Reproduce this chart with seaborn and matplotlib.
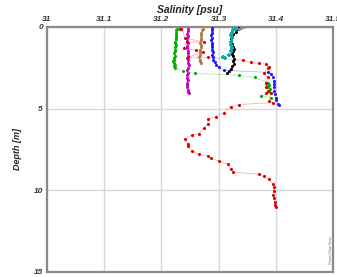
import matplotlib
matplotlib.use("Agg")
import matplotlib.pyplot as plt
import seaborn as sns
import pandas as pd
from matplotlib.ticker import MultipleLocator

# ---------------- data (salinity [psu] vs depth [m]) ----------------
green_depth = [0.1,0.2,0.35,0.5,0.6,0.75,0.9,1.0,1.1,1.25,1.4,1.5,1.6,1.75,1.9,2.0,2.1,2.2,2.3,2.4,2.5,
               2.72,2.84,2.96,3.09,3.40,3.46,3.58,3.70,3.80,3.89,4.07,4.20,4.32]
green_sal = [31.227,31.226,31.226,31.225,31.226,31.225,31.224,31.224,31.225,31.224,31.223,31.223,31.222,
             31.223,31.222,31.222,31.221,31.222,31.223,31.222,31.224,
             31.237,31.258,31.335,31.363,31.387,31.384,31.388,31.386,31.389,31.388,31.391,31.374,31.391]

magenta_depth = [0.1,0.25,0.4,0.55,0.7,0.85,1.0,1.15,1.3,1.45,1.6,1.75,1.9,2.05,2.2,2.35,2.5,2.65,2.8,
                 2.95,3.1,3.25,3.4,3.55,3.7,3.85,4.0,4.07]
magenta_sal = [31.247,31.246,31.245,31.246,31.244,31.245,31.246,31.245,31.244,31.246,31.247,31.246,31.245,
               31.246,31.247,31.248,31.246,31.245,31.246,31.244,31.245,31.246,31.245,31.244,31.245,31.246,
               31.247,31.248]

brown_depth = [0.1,0.2,0.35,0.5,0.65,0.8,0.95,1.1,1.25,1.4,1.55,1.7,1.85,2.0,2.1,2.2]
brown_sal = [31.272,31.271,31.270,31.269,31.270,31.269,31.268,31.270,31.269,31.268,31.267,31.268,31.266,
             31.267,31.268,31.270]

blue_depth = [0.05,0.2,0.35,0.5,0.65,0.8,0.95,1.1,1.25,1.4,1.55,1.7,1.85,2.0,2.15,2.3,2.47,2.65,2.78,2.9,
              3.09,3.3,3.5,3.7,3.9,4.1,4.32,4.5,4.69,4.75]
blue_sal = [31.288,31.289,31.288,31.287,31.288,31.287,31.288,31.289,31.288,31.289,31.290,31.289,31.290,
            31.291,31.293,31.296,31.300,31.309,31.386,31.391,31.395,31.396,31.396,31.396,31.397,31.398,
            31.400,31.401,31.404,31.406]

black_depth = [0.05,0.15,0.3,0.45,0.6,0.75,0.9,1.05,1.2,1.35,1.5,1.65,1.8,1.95,2.1,2.25,2.4,2.55,2.7,2.8]
black_sal = [31.336,31.333,31.330,31.326,31.324,31.322,31.321,31.323,31.326,31.327,31.325,31.324,31.326,
             31.327,31.326,31.327,31.324,31.321,31.318,31.314]

cyan_depth = [0.1,0.2,0.35,0.5,0.7,0.93,1.1,1.3,1.5,1.7,1.85,1.91]
cyan_sal = [31.330,31.326,31.324,31.322,31.323,31.321,31.322,31.323,31.322,31.318,31.307,31.312]

gray_depth = [0.0,0.05,0.1]
gray_sal = [31.344,31.339,31.336]

red_depth = [0.12,0.12,0.68,0.93,0.93,1.30,1.42,1.54,1.85,1.85,2.04,2.16,2.22,2.28,2.47,2.53,2.84,3.09,
             3.40,3.70,3.89,4.07,4.07,4.51,4.63,4.75,4.88,5.25,5.49,5.62,5.93,6.17,6.54,6.60,6.85,7.16,
             7.28,7.59,7.78,7.90,8.02,8.21,8.40,8.70,8.89,9.01,9.14,9.32,9.63,9.80,10.06,10.30,10.49,
             10.70,10.90,10.99]
red_sal = [31.232,31.235,31.242,31.274,31.244,31.239,31.260,31.272,31.247,31.282,31.342,31.356,31.370,
           31.382,31.388,31.386,31.379,31.386,31.382,31.382,31.386,31.382,31.391,31.388,31.395,31.335,
           31.321,31.309,31.295,31.282,31.281,31.274,31.265,31.254,31.242,31.246,31.246,31.254,31.265,
           31.282,31.286,31.300,31.316,31.321,31.326,31.370,31.379,31.388,31.395,31.396,31.396,31.395,
           31.396,31.398,31.399,31.400]

x_ticks = [31.0, 31.1, 31.2, 31.3, 31.4, 31.5]
x_tick_labels = ["31", "31.1", "31.2", "31.3", "31.4", "31.5"]
y_ticks = [0, 5, 10, 15]
y_tick_labels = ["0", "5", "10", "15"]

series = [
    ("green", green_sal, green_depth, "#00b000", "o"),
    ("magenta", magenta_sal, magenta_depth, "#c800c8", "o"),
    ("brown", brown_sal, brown_depth, "#b07a44", "o"),
    ("red", red_sal, red_depth, "#e00000", "o"),
    ("blue", blue_sal, blue_depth, "#1a1aff", "o"),
    ("black", black_sal, black_depth, "#000000", "o"),
    ("cyan", cyan_sal, cyan_depth, "#10a8a8", "P"),
    ("gray", gray_sal, gray_depth, "#909090", "o"),
]

# ---------------- figure ----------------
sns.set_style("white")
plt.rcParams['font.family'] = ['Liberation Sans', 'DejaVu Sans']
fig = plt.figure(figsize=(3.37, 2.77), dpi=100)
ax = fig.add_axes([47/337, 1-272/277, 286/337, 245/277])

for name, s, d, col, mk in series:
    df = pd.DataFrame({"sal": s, "depth": d})
    sns.lineplot(data=df, x="sal", y="depth", sort=False, estimator=None, ax=ax,
                 color=col, lw=0.6, alpha=0.3, zorder=2)
    sns.scatterplot(data=df, x="sal", y="depth", ax=ax, color=col, marker=mk,
                    s=5, linewidth=0, zorder=3)

ax.set_xlim(31.0, 31.5)
ax.set_ylim(15, 0)
ax.xaxis.tick_top()
ax.xaxis.set_label_position("top")
ax.set_xticks(x_ticks)
ax.set_xticklabels(x_tick_labels)
ax.set_yticks(y_ticks)
ax.set_yticklabels(y_tick_labels)
ax.yaxis.set_minor_locator(MultipleLocator(2.5))
for lab in ax.get_xticklabels() + ax.get_yticklabels():
    lab.set_fontsize(6); lab.set_fontweight("bold"); lab.set_fontstyle("italic"); lab.set_color("#333333")
ax.tick_params(axis="both", which="major", length=0, pad=3)
ax.tick_params(axis="y", which="minor", length=2.5, direction="in", color="#999999", width=0.6)
ax.set_xlabel("Salinity [psu]", fontsize=7.5, fontweight="bold", fontstyle="italic", labelpad=2, color="#222222")
ax.set_ylabel("Depth [m]", fontsize=6.5, fontweight="bold", fontstyle="italic", labelpad=8, color="#222222")
ax.grid(True, which="major", color="#d8d8d8", lw=1.0, zorder=0)
ax.set_axisbelow(True)
for sp in ax.spines.values():
    sp.set_color("#8a8a8a")
    sp.set_linewidth(1.6)

fig.text(331/337, 1-250/277, "Ocean Data View", rotation=90, fontsize=2.5, color="#666666",
         ha="center", va="center")

fig.savefig("out.png", dpi=100)
